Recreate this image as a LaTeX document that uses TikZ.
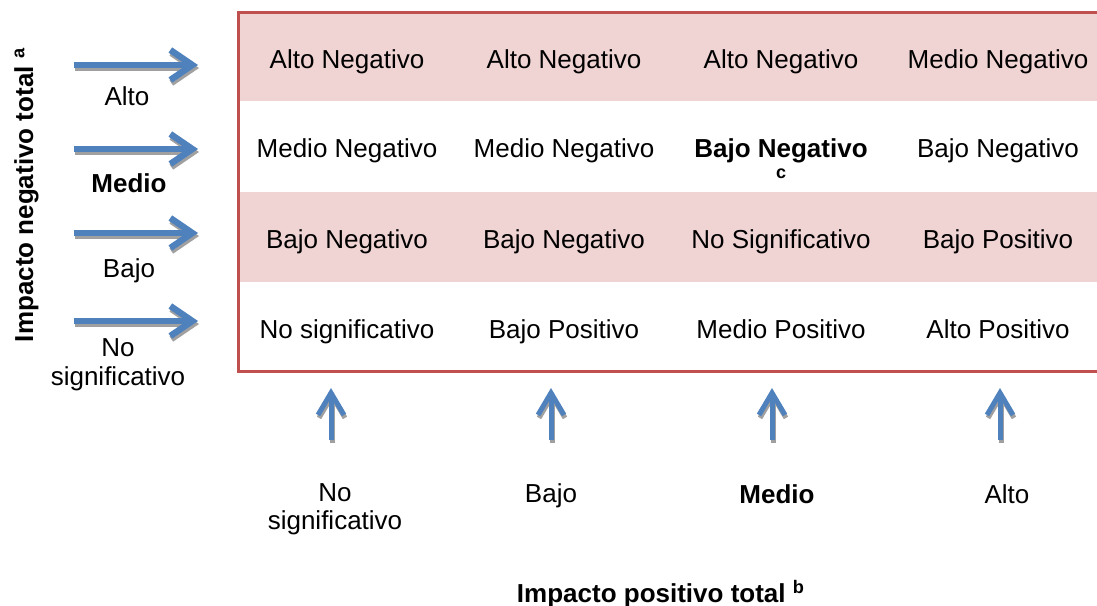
\documentclass[tikz,border=0pt]{standalone}
\usepackage{fontspec}
\setmainfont{Liberation Sans}
\usetikzlibrary{arrows.meta}
\definecolor{tred}{HTML}{C0504D}
\definecolor{tpink}{HTML}{F0D3D3}
\definecolor{tblue}{HTML}{4F81BD}
\definecolor{tshadow}{HTML}{A0A0A0}
\begin{document}
\begin{tikzpicture}[x=0.5pt,y=-0.5pt,
  txt/.style={font=\fontsize{13}{15}\selectfont, anchor=base, inner sep=0pt},
  btxt/.style={txt, font=\fontsize{13}{15}\selectfont\bfseries},
  harrow/.style={line width=3.2pt, -{Straight Barb[length=11pt,width=15pt,line width=3.2pt]}},
  varrow/.style={line width=2.5pt, -{Straight Barb[length=11pt,width=13pt,line width=2.5pt]}},
  shadowed/.style={tshadow, transform canvas={shift={(0.5pt,-1.5pt)}}},
  tborder/.style={draw=tred, line width=1.5pt}
]
\useasboundingbox (0,0) rectangle (1097,605);
\clip (0,0) rectangle (1097,605);

% table
\fill[tpink] (238,12) rectangle (1110,101);
\fill[tpink] (238,192) rectangle (1110,282);
\draw[tborder] (238,12) rectangle (1107,371);

% cells
\node[txt] (r1c1) at (347,68) {Alto Negativo};
\node[txt] (r1c2) at (564,68) {Alto Negativo};
\node[txt] (r1c3) at (781,68) {Alto Negativo};
\node[txt] (r1c4) at (998,68) {Medio Negativo};
\node[txt] (r2c1) at (347,157) {Medio Negativo};
\node[txt] (r2c2) at (564,157) {Medio Negativo};
\node[align=center, inner sep=0pt, font=\fontsize{13}{10.5}\selectfont\bfseries] (r2c3) at (781,158.2) {Bajo Negativo\\{\fontsize{9}{10.5}\selectfont c}};
\node[txt] (r2c4) at (998,157) {Bajo Negativo};
\node[txt] (r3c1) at (347,248) {Bajo Negativo};
\node[txt] (r3c2) at (564,248) {Bajo Negativo};
\node[txt] (r3c3) at (781,248) {No Significativo};
\node[txt] (r3c4) at (998,248) {Bajo Positivo};
\node[txt] (r4c1) at (347,338) {No significativo};
\node[txt] (r4c2) at (564,338) {Bajo Positivo};
\node[txt] (r4c3) at (781,338) {Medio Positivo};
\node[txt] (r4c4) at (998,338) {Alto Positivo};

% left arrows
\foreach \i/\y in {1/65,2/149,3/233,4/321}{
  \coordinate (hs\i) at (74,\y);
  \coordinate (he\i) at (198,\y);
  \draw[harrow, shadowed] (hs\i) -- (he\i);
  \draw[harrow, tblue] (hs\i) -- (he\i);
}
% left labels
\node[txt] (lAlto) at (127,105) {Alto};
\node[btxt] (lMedio) at (129,192) {Medio};
\node[txt] (lBajo) at (129,277) {Bajo};
\node[align=center, inner sep=0pt, font=\fontsize{13}{14.5}\selectfont] (lNo) at (118,365) {No\\significativo};
\node[btxt, rotate=90] (ytitle) at (33,195) {Impacto negativo total \textsuperscript{a}};

% bottom arrows
\foreach \i/\x in {1/331,2/551,3/772,4/1000}{
  \coordinate (vs\i) at (\x,440);
  \coordinate (ve\i) at (\x,388);
  \draw[varrow, shadowed] (vs\i) -- (ve\i);
  \draw[varrow, tblue] (vs\i) -- (ve\i);
}
% bottom labels
\node[align=center, inner sep=0pt, font=\fontsize{13}{14}\selectfont] (bNo) at (335,509.4) {No\\significativo};
\node[txt] (bBajo) at (551,502) {Bajo};
\node[btxt] (bMedio) at (777,503) {Medio};
\node[txt] (bAlto) at (1007,503) {Alto};
\node[btxt] (xtitle) at (661,602) {Impacto positivo total \textsuperscript{b}};
\end{tikzpicture}
\end{document}
